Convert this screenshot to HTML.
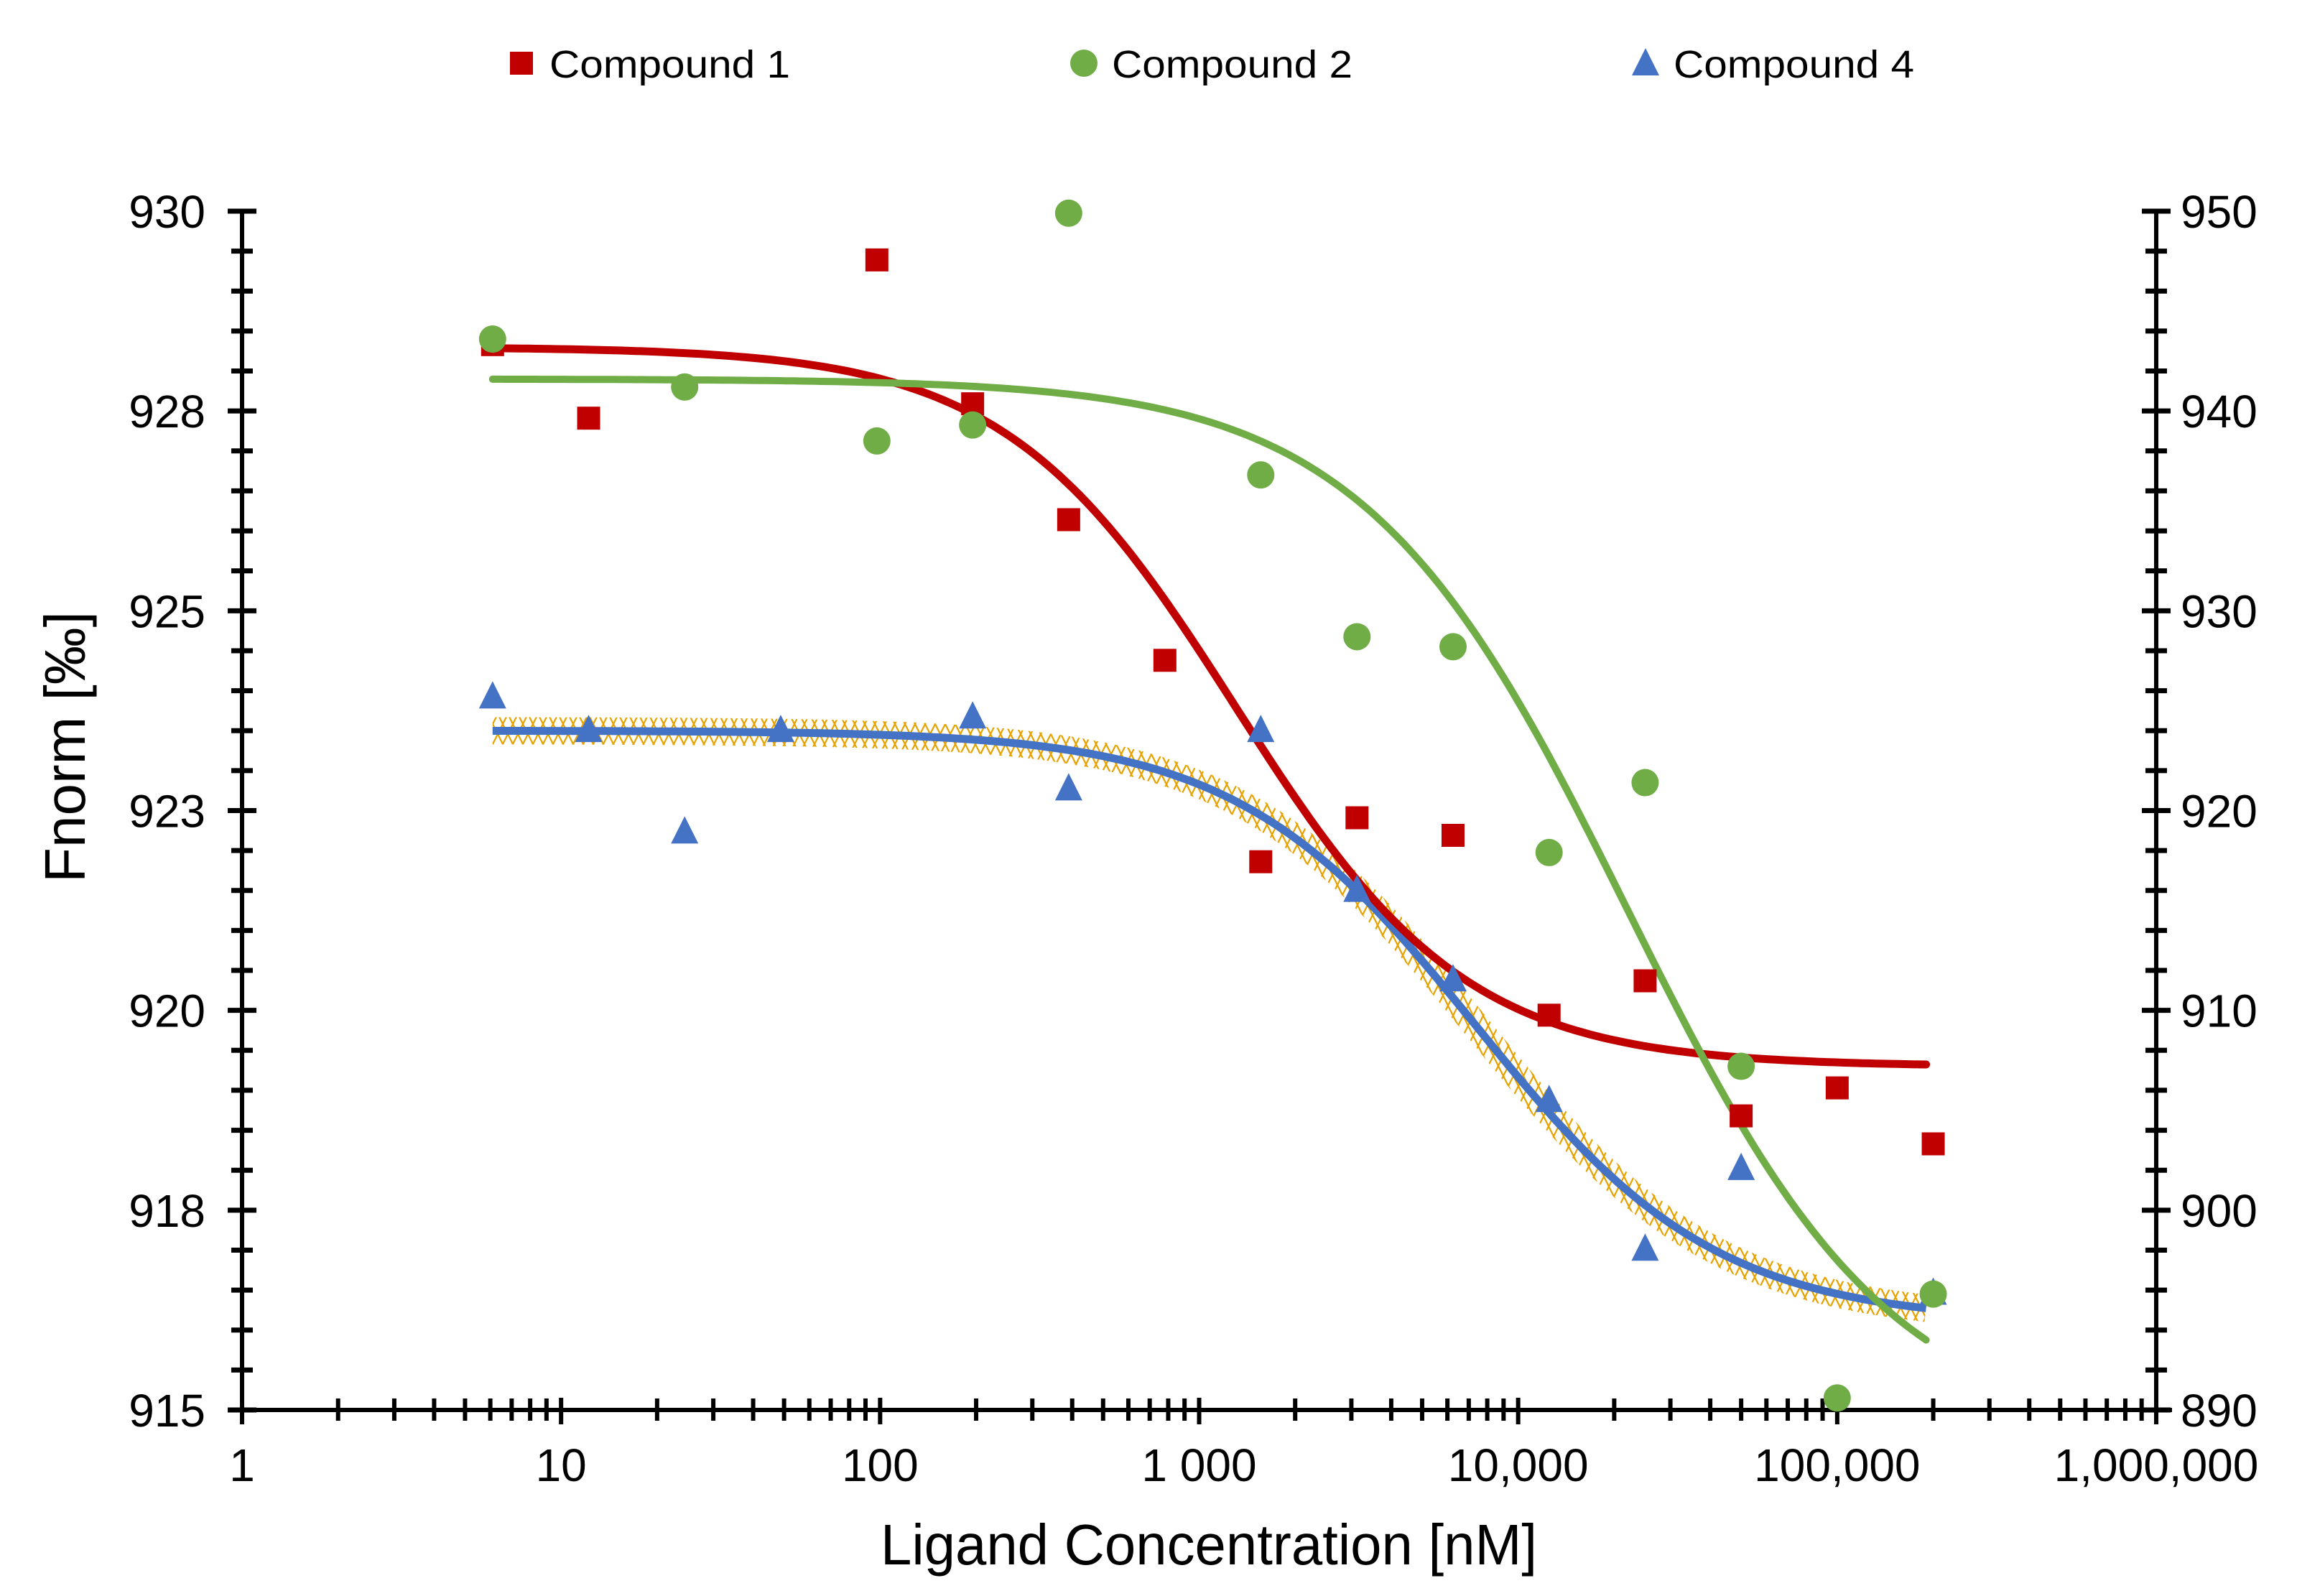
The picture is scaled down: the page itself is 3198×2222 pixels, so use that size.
<!DOCTYPE html>
<html><head><meta charset="utf-8"><style>
html,body{margin:0;padding:0;background:#fff;}
svg{display:block;font-family:"Liberation Sans",Arial,sans-serif;}
</style></head><body>
<svg id="chart" width="3198" height="2222" viewBox="0 0 3198 2222" xmlns="http://www.w3.org/2000/svg">
<defs>
<pattern id="hatch" patternUnits="userSpaceOnUse" width="14" height="28">
<path d="M0,0 L14,28 M14,0 L0,28" stroke="#E6A200" stroke-width="2.2" fill="none"/>
</pattern>
</defs>
<g id="axes"></g>
<g id="series"></g>
<g id="legend"></g>
<text x="1683" y="2178" font-size="80" text-anchor="middle" textLength="914" lengthAdjust="spacingAndGlyphs">Ligand Concentration [nM]</text>
<text transform="translate(118,1040) rotate(-90)" font-size="80" text-anchor="middle">Fnorm [‰]</text>
</svg>
<script>
// ---- data ----
const concentrations = [6.1, 12.2, 24.4, 48.8, 97.7, 195, 390, 781, 1560, 3125, 6250, 12500, 25000, 50000, 100000, 200000];
const compound1Values = [928.33, 927.41, null, null, 929.39, 927.59, 926.14, 924.38, 921.86, 922.41, 922.19, 919.94, 920.37, 918.68, 919.03, 918.33];
const compound2Values = [943.6, null, 941.2, null, 938.5, 939.3, 949.9, null, 936.8, 928.7, 928.2, 917.9, 921.4, 907.2, 890.6, 895.8];
const compound4Values = [923.93, 923.51, 922.24, 923.51, null, 923.68, 922.78, null, 923.51, 921.51, 920.39, 918.88, 917.02, 918.03, null, 916.47];
// fit parameters: [top, bottom, EC50, hill]
const compound1Fit = [928.3, 919.3, 1300, 1.2];
const compound2Fit = [941.6, 888.5, 22000, 1.05];
const compound4Fit = [923.5, 916.1, 7400, 1.15];
const xTickLabels = ["1", "10", "100", "1 000", "10,000", "100,000", "1,000,000"];
const leftTickLabels = ["930", "928", "925", "923", "920", "918", "915"];
const rightTickLabels = ["950", "940", "930", "920", "910", "900", "890"];

// ---- scales ----
const X0 = 337, X1 = 3002, Y0 = 294, Y1 = 1963;
function xs(c){ return X0 + (X1 - X0) * Math.log10(c) / 6; }
function yL(v){ return Y0 + (930 - v) * (Y1 - Y0) / 15; }
function yR(v){ return Y0 + (950 - v) * (Y1 - Y0) / 60; }
const NS = "http://www.w3.org/2000/svg";
function mk(tag, attrs, parent){ const e = document.createElementNS(NS, tag); for (const k in attrs) e.setAttribute(k, attrs[k]); parent.appendChild(e); return e; }

const axes = document.getElementById('axes');
const series = document.getElementById('series');
const legend = document.getElementById('legend');

let a = mk('line', {x1:X0, y1:Y0, x2:X0, y2:Y1+4, stroke:'#000','stroke-width':6}, axes);
 
a = mk('line', {x1:X1, y1:Y0, x2:X1, y2:Y1+4, stroke:'#000','stroke-width':6}, axes);
 
a = mk('line', {x1:X0, y1:Y1, x2:X1+22, y2:Y1, stroke:'#000','stroke-width':6}, axes);
 

const step = (Y1 - Y0) / 6;
for (let i = 0; i <= 6; i++) {
  const y = Y0 + i * step;
  for (const ax of [X0, X1]) mk('line', {x1:ax-20, y1:y, x2:ax+20, y2:y, stroke:'#000','stroke-width':7}, axes);
  if (i < 6) for (let j = 1; j < 5; j++) {
    const ym = y + j * step / 5;
    for (const ax of [X0, X1]) mk('line', {x1:ax-15, y1:ym, x2:ax+15, y2:ym, stroke:'#000','stroke-width':7}, axes);
  }
  let t = mk('text', {x:286, y:y+23, 'font-size':64, 'text-anchor':'end'}, axes);
  t.textContent = leftTickLabels[i];
   
  t = mk('text', {x:3036, y:y+23, 'font-size':64, 'text-anchor':'start'}, axes);
  t.textContent = rightTickLabels[i];
   
}
for (let d = 0; d <= 6; d++) {
  const x = xs(Math.pow(10, d));
  mk('line', {x1:x, y1:Y1-17, x2:x, y2:Y1+20, stroke:'#000','stroke-width':6}, axes);
  if (d < 6) for (let m = 2; m <= 9; m++) {
    const xm = xs(m * Math.pow(10, d));
    mk('line', {x1:xm, y1:Y1-16, x2:xm, y2:Y1+15, stroke:'#000','stroke-width':6}, axes);
  }
  const t = mk('text', {x:x, y:2062, 'font-size':64, 'text-anchor':'middle'}, axes);
  t.textContent = xTickLabels[d];
   
}

function fitPath(p, yf){
  let d = '';
  for (let i = 0; i <= 200; i++) {
    const lc = Math.log10(6.1) + (Math.log10(190000) - Math.log10(6.1)) * i / 200;
    const c = Math.pow(10, lc);
    const v = p[1] + (p[0] - p[1]) / (1 + Math.pow(c / p[2], p[3]));
    d += (i ? 'L' : 'M') + xs(c).toFixed(1) + ',' + yf(v).toFixed(1);
  }
  return d;
}
let p = mk('path', {d:fitPath(compound4Fit, yL), stroke:'url(#hatch)', 'stroke-width':38, fill:'none'}, series);
 
p = mk('path', {d:fitPath(compound4Fit, yL), stroke:'#4472C4', 'stroke-width':11, fill:'none'}, series);
 
p = mk('path', {d:fitPath(compound1Fit, yL), stroke:'#C00000', 'stroke-width':11, fill:'none','stroke-linecap':'round'}, series);
 
p = mk('path', {d:fitPath(compound2Fit, yR), stroke:'#70AD47', 'stroke-width':10, fill:'none','stroke-linecap':'round'}, series);
 

function square(cx, cy, par){ return mk('rect', {x:cx-16, y:cy-16, width:32, height:32, fill:'#C00000'}, par); }
function circle(cx, cy, par){ return mk('circle', {cx:cx, cy:cy, r:19, fill:'#70AD47'}, par); }
function tri(cx, cy, par){ return mk('polygon', {points:(cx)+','+(cy-21)+' '+(cx+19)+','+(cy+17)+' '+(cx-19)+','+(cy+17), fill:'#4472C4'}, par); }
concentrations.forEach((c, i) => {
  if (compound1Values[i] != null) {
    const m = square(xs(c), yL(compound1Values[i]), series);
     
  }
});
concentrations.forEach((c, i) => {
  if (compound4Values[i] != null) {
    const m = tri(xs(c), yL(compound4Values[i]), series);
     
  }
});
concentrations.forEach((c, i) => {
  if (compound2Values[i] != null) {
    const m = circle(xs(c), yR(compound2Values[i]), series);
     
  }
});

const legendNames = ["Compound 1", "Compound 2", "Compound 4"];
const legendX = [726, 1509, 2291];
const makers = [square, circle, tri];
legendNames.forEach((n, i) => {
  const g = mk('g', {}, legend);
   
  makers[i](legendX[i], 88, g);
  const t = mk('text', {x:legendX[i]+39, y:108, 'font-size':54, textLength:335, lengthAdjust:'spacingAndGlyphs'}, g);
  t.textContent = n;
});
</script>
</body></html>
